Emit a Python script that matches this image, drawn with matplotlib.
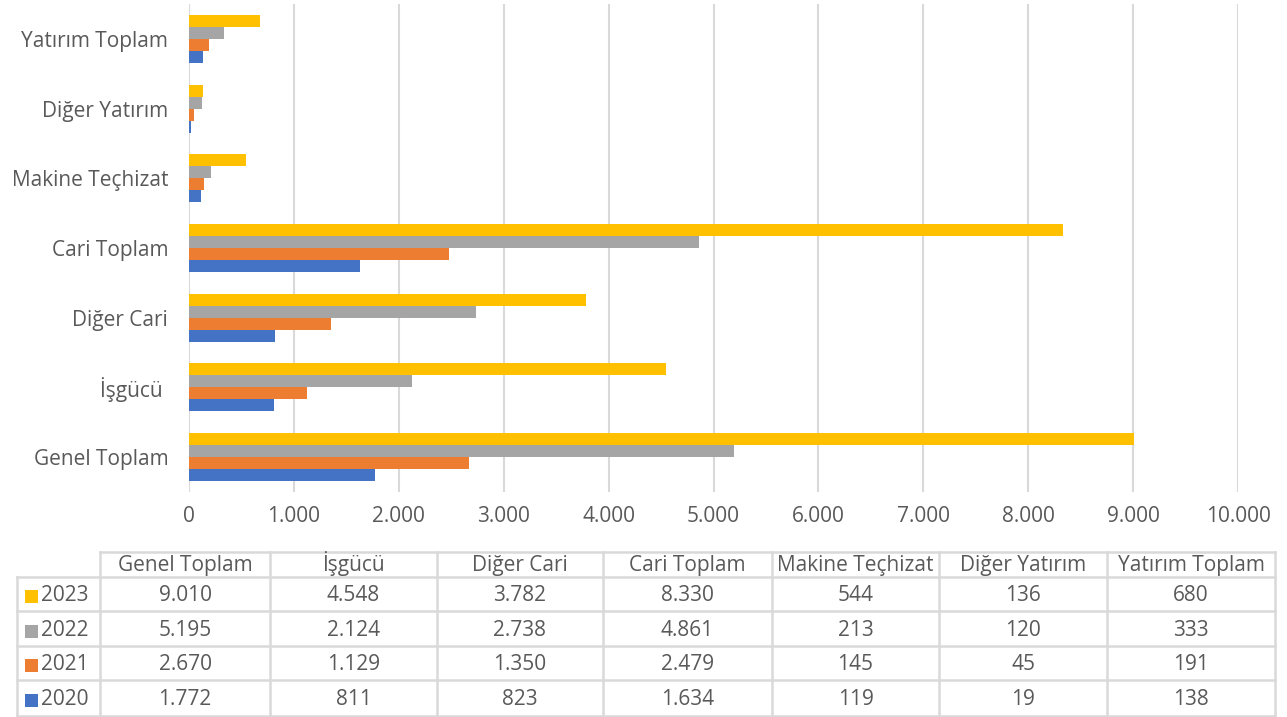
import matplotlib
matplotlib.use("Agg")
import matplotlib.pyplot as plt
import numpy as np

# data
categories = ["Genel Toplam", "İşgücü", "Diğer Cari", "Cari Toplam",
              "Makine Teçhizat", "Diğer Yatırım", "Yatırım Toplam"]
years = ["2020", "2021", "2022", "2023"]
v2020 = [1772, 811, 823, 1634, 119, 19, 138]
v2021 = [2670, 1129, 1350, 2479, 145, 45, 191]
v2022 = [5195, 2124, 2738, 4861, 213, 120, 333]
v2023 = [9010, 4548, 3782, 8330, 544, 136, 680]
xticks = [0, 1000, 2000, 3000, 4000, 5000, 6000, 7000, 8000, 9000, 10000]

colors = ["#4472C4", "#ED7D31", "#A5A5A5", "#FFC000"]
series = [v2020, v2021, v2022, v2023]
txt = "#595959"
grid = "#D9D9D9"

plt.rcParams["font.family"] = ["Open Sans", "DejaVu Sans"]
FS = 15

W, H = 1287, 717
fig = plt.figure(figsize=(W / 100, H / 100), dpi=100)

def fr(x0, y0, x1, y1):
    # pixel box (top-left origin) -> figure fraction
    return [x0 / W, 1 - y1 / H, (x1 - x0) / W, (y1 - y0) / H]

ax = fig.add_axes(fr(189, 4, 1238, 492))
y = np.arange(len(categories))
h = 0.172
for i, (vals, c) in enumerate(zip(series, colors)):
    ax.barh(y + (i - 1.5) * h, vals, height=h, color=c, zorder=3)

ax.set_xlim(0, 10000)
ax.set_ylim(-0.5, len(categories) - 0.5)
ax.set_xticks(xticks)
ax.set_xticklabels([f"{t:,}".replace(",", ".") for t in xticks])
ax.set_yticks(y)
ax.set_yticklabels([c + " " if c == "İşgücü" else c for c in categories])
ax.tick_params(axis="both", length=0, labelsize=FS, colors=txt)
ax.tick_params(axis="x", pad=10)
ax.tick_params(axis="y", pad=15)
ax.grid(axis="x", color=grid, linewidth=1.5, zorder=0)
for s in ax.spines.values():
    s.set_visible(False)

# data table below the chart
tab = fig.add_axes([0, 0, 1, 1])
tab.set_xlim(0, W)
tab.set_ylim(H, 0)
tab.axis("off")

cols = [100, 270, 437, 603, 772, 939, 1107, 1275]
rows = [552, 577, 611, 646, 680, 716]
lab_left = 17
lw = 1.8

# horizontal lines
tab.plot([cols[0], cols[-1]], [rows[0], rows[0]], color=grid, lw=lw)
for r in rows[1:]:
    tab.plot([lab_left, cols[-1]], [r, r], color=grid, lw=lw)
# vertical lines
tab.plot([lab_left, lab_left], [rows[1], rows[-1]], color=grid, lw=lw)
for c in cols:
    tab.plot([c, c], [rows[0], rows[-1]], color=grid, lw=lw)

for j, cat in enumerate(categories):
    xc = (cols[j] + cols[j + 1]) / 2
    tab.text(xc, (rows[0] + rows[1]) / 2 + 6, cat, ha="center", va="baseline",
             fontsize=FS, color=txt)

row_order = [3, 2, 1, 0]
for k, si in enumerate(row_order):
    yc = (rows[k + 1] + rows[k + 2]) / 2
    tab.add_patch(plt.Rectangle((25, yc - 4), 13, 13, color=colors[si], lw=0))
    tab.text(41, yc + 7, years[si], ha="left", va="baseline", fontsize=FS, color=txt)
    for j, v in enumerate(series[si]):
        xc = (cols[j] + cols[j + 1]) / 2
        tab.text(xc, yc + 7, f"{v:,}".replace(",", "."), ha="center",
                 va="baseline", fontsize=FS, color=txt)

fig.savefig("out.png", dpi=100)
